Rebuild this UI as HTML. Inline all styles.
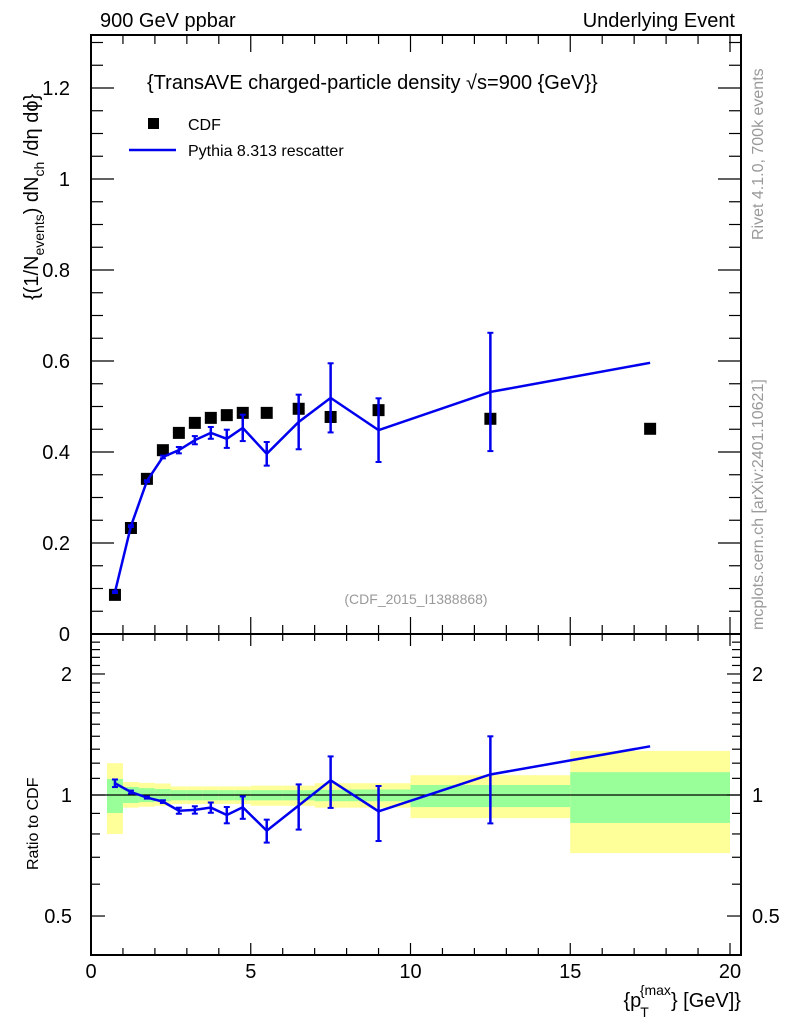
<!DOCTYPE html>
<html><head><meta charset="utf-8"><style>
body{margin:0;background:#fff}
svg{display:block;font-family:"Liberation Sans",sans-serif}
</style></head><body>
<svg id="c" width="786" height="1024" viewBox="0 0 786 1024">
</svg>
<script>
const xs=[0.75,1.25,1.75,2.25,2.75,3.25,3.75,4.25,4.75,5.5,6.5,7.5,9,12.5,17.5];
const binLo=[0.5,1,1.5,2,2.5,3,3.5,4,4.5,5,6,7,8,10,15];
const binHi=[1,1.5,2,2.5,3,3.5,4,4.5,5,6,7,8,10,15,20];
const cdf=[0.086,0.233,0.341,0.404,0.442,0.464,0.475,0.481,0.486,0.486,0.495,0.477,0.492,0.473,0.451];
const mc=[0.092,0.237,0.336,0.389,0.404,0.426,0.442,0.429,0.453,0.396,0.466,0.519,0.448,0.532,0.596];
const mcErr=[0.002,0.002,0.002,0.003,0.007,0.009,0.013,0.02,0.029,0.026,0.06,0.076,0.07,0.13,0];
const statUp=[1.096,1.047,1.04,1.035,1.028,1.028,1.028,1.028,1.028,1.028,1.028,1.03,1.032,1.059,1.14];
const statDn=[0.902,0.955,0.96,0.965,0.97,0.97,0.97,0.97,0.97,0.97,0.97,0.965,0.965,0.933,0.852];
const totUp=[1.20,1.077,1.072,1.068,1.05,1.05,1.05,1.05,1.05,1.055,1.055,1.07,1.07,1.12,1.287];
const totDn=[0.80,0.93,0.935,0.94,0.95,0.95,0.95,0.95,0.95,0.94,0.94,0.93,0.93,0.876,0.717];
const yTicks=[0,0.2,0.4,0.6,0.8,1,1.2];
const yTickLabels=["0","0.2","0.4","0.6","0.8","1","1.2"];
const xTicks=[0,5,10,15,20];
const rTicks=[0.5,1,2];
const rTickLabels=["0.5","1","2"];

const S=document.getElementById('c');const NS='http://www.w3.org/2000/svg';
function el(t,a,p){const e=document.createElementNS(NS,t);for(const k in a)e.setAttribute(k,a[k]);(p||S).appendChild(e);return e;}
const L=91,R=741,T=35,M=634,B=955;
const X=v=>L+v*31.95;
const Y=v=>M-v*455;
const RY=r=>795-402*Math.log10(r);

binLo.forEach((lo,i)=>{
 const y=el('rect',{x:X(lo),y:RY(totUp[i]),width:X(binHi[i])-X(lo),height:RY(totDn[i])-RY(totUp[i]),fill:'#ffff99'});
 
 
 const g=el('rect',{x:X(lo),y:RY(statUp[i]),width:X(binHi[i])-X(lo),height:RY(statDn[i])-RY(statUp[i]),fill:'#99ff99'});
 
 
});
const one=el('line',{x1:L,x2:R,y1:RY(1),y2:RY(1),stroke:'#000','stroke-width':1.3});



const f1=el('rect',{x:L,y:T,width:R-L,height:M-T,fill:'none',stroke:'#000','stroke-width':2});

const f2=el('rect',{x:L,y:M,width:R-L,height:B-M,fill:'none',stroke:'#000','stroke-width':2});


function tk(x1,y1,x2,y2){el('line',{x1,y1,x2,y2,stroke:'#000','stroke-width':1.2});}
for(let v=0;v<=20;v++){const x=X(v);const mj=v%5==0;const l=mj?17:9;
 tk(x,T,x,T+l);tk(x,M,x,M-l);tk(x,M,x,M+(mj?12:7));tk(x,B,x,B-(mj?12:7));}
xTicks.forEach(v=>{const t=el('text',{x:X(v),y:978,'font-size':20,'text-anchor':'middle'});t.textContent=v;
 });
for(let k=0;k<=26;k++){const v=k*0.05;const y=Y(v);if(y<T)continue;const mj=k%4==0;const l=mj?23:12;
 tk(L,y,L+l,y);tk(R,y,R-l,y);}
yTicks.forEach((v,i)=>{const t=el('text',{x:70,y:Y(v)+7,'font-size':20,'text-anchor':'end'});t.textContent=yTickLabels[i];
 });
const rm=[0.5,0.6,0.7,0.8,0.9,1,1.1,1.2,1.3,1.4,1.5,1.6,1.7,1.8,1.9,2,2.1,2.2,2.3,2.4,2.5];
rm.forEach(r=>{const y=RY(r);if(y<M+2||y>B-2)return;const mj=rTicks.includes(r);const l=mj?14:9;tk(L,y,L+l,y);tk(R,y,R-l,y);});
rTicks.forEach((r,i)=>{[72,752].forEach((x,j)=>{const t=el('text',{x:x,y:RY(r)+7,'font-size':20,'text-anchor':j?'start':'end'});t.textContent=rTickLabels[i];
 });});

xs.forEach((x,i)=>{const m=el('rect',{x:X(x)-6,y:Y(cdf[i])-6,width:12,height:12,fill:'#000'});
 });
const pm=el('polyline',{points:xs.map((x,i)=>X(x)+','+Y(mc[i])).join(' '),fill:'none',stroke:'#0000ee','stroke-width':2.5});

function err(x,y1,y2){if(Math.abs(y2-y1)<1)return;el('line',{x1:x,x2:x,y1,y2,stroke:'#0000ee','stroke-width':2.5});
 el('line',{x1:x-3,x2:x+3,y1,y2:y1,stroke:'#0000ee','stroke-width':2});el('line',{x1:x-3,x2:x+3,y1:y2,y2:y2,stroke:'#0000ee','stroke-width':2});}
xs.forEach((x,i)=>{err(X(x),Y(mc[i]+mcErr[i]),Y(mc[i]-mcErr[i]));});
const pr=el('polyline',{points:xs.map((x,i)=>X(x)+','+RY(mc[i]/cdf[i])).join(' '),fill:'none',stroke:'#0000ee','stroke-width':2.5});

xs.forEach((x,i)=>{err(X(x),RY((mc[i]+mcErr[i])/cdf[i]),RY(Math.max(mc[i]-mcErr[i],0.01)/cdf[i]));});
</script>
<svg width="786" height="1024" style="position:absolute;left:0;top:0">
<g font-family="Liberation Sans, sans-serif">
<text x="100" y="27" font-size="20">900 GeV ppbar</text>
<text x="735" y="27" font-size="20" text-anchor="end">Underlying Event</text>
<text x="147" y="89" font-size="20">{TransAVE charged-particle density √s=900 {GeV}}</text>
<rect x="148" y="118" width="11" height="11" fill="#000"/>
<text x="188" y="130" font-size="16">CDF</text>
<line x1="129" x2="176" y1="150" y2="150" stroke="#0000ee" stroke-width="2.5"/>
<text x="188" y="156" font-size="16">Pythia 8.313 rescatter</text>
<text x="416" y="604" font-size="14" fill="#999" text-anchor="middle">(CDF_2015_I1388868)</text>
<text transform="translate(38,300) rotate(-90)" font-size="20">{(1/N<tspan font-size="14" dy="6">events</tspan><tspan dy="-6">) dN</tspan><tspan font-size="14" dy="6">ch</tspan><tspan dy="-6"> /dη  dϕ}</tspan></text>
<text transform="translate(38,870) rotate(-90)" font-size="16">Ratio to CDF</text>
<text transform="translate(763,240) rotate(-90)" font-size="16" fill="#999">Rivet 4.1.0,  700k events</text>
<text transform="translate(763,630) rotate(-90)" font-size="16" fill="#999">mcplots.cern.ch [arXiv:2401.10621]</text>
<text x="741" y="1007" font-size="20" text-anchor="end">{p<tspan font-size="14" dy="10" dx="-1">T</tspan><tspan font-size="14" dy="-22" dx="-9">{max</tspan><tspan dy="12">} [GeV]}</tspan></text>
</g></svg>
</body></html>
